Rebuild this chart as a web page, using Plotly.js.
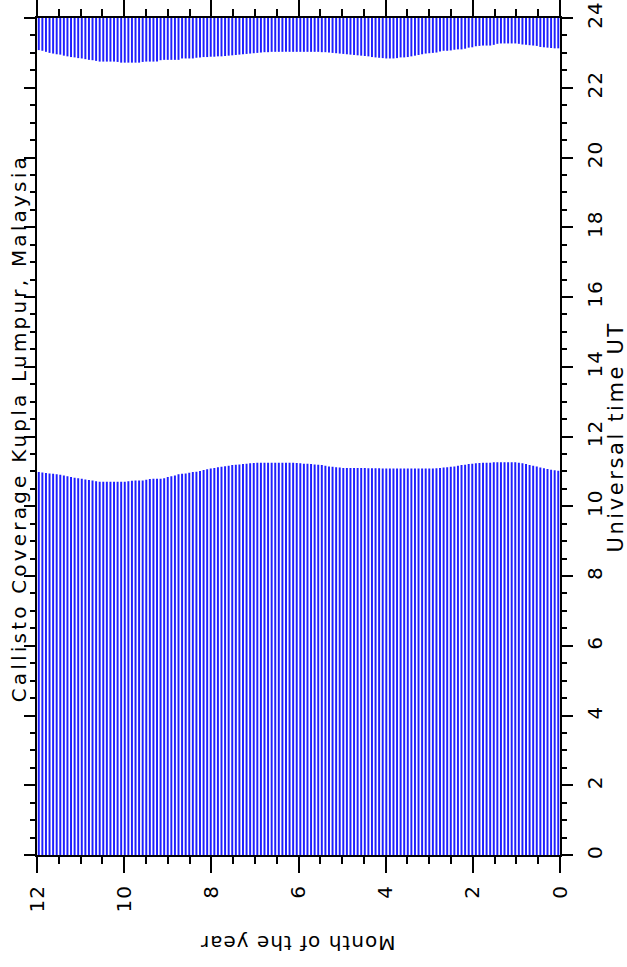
<!DOCTYPE html>
<html>
<head>
<meta charset="utf-8">
<script src="https://cdn.plot.ly/plotly-3.0.1.min.js"></script>
<style>
html,body{margin:0;padding:0;background:#fff;}
#chart{width:627px;height:967px;}
#chart g.annotation[data-index="0"] text{letter-spacing:3.2px;}
#chart g.annotation[data-index="1"] text{letter-spacing:1px;}
#chart g.annotation[data-index="2"] text{letter-spacing:2.6px;}
#chart .xtick text, #chart .ytick text{letter-spacing:1px;}
</style>
</head>
<body>
<div id="chart"></div>
<script>
// Month of the year: first sample and spacing (146 samples over the year)
const monthStart = 0.04;
const monthStep = 0.0822;

// End of the early coverage window (UT hours), month 0 -> 12
const earlyEnd = [
11.02,11.03,11.05,11.07,11.09,11.11,11.14,11.16,11.18,11.21,
11.23,11.25,11.26,11.26,11.26,11.26,11.26,11.26,11.26,11.25,
11.25,11.25,11.24,11.23,11.22,11.21,11.19,11.18,11.16,11.14,
11.13,11.12,11.11,11.10,11.09,11.08,11.08,11.08,11.08,11.08,
11.08,11.08,11.08,11.08,11.08,11.08,11.08,11.08,11.08,11.08,
11.09,11.09,11.09,11.09,11.10,11.10,11.10,11.10,11.10,11.10,
11.10,11.11,11.12,11.13,11.14,11.16,11.18,11.19,11.20,11.21,
11.22,11.22,11.23,11.24,11.25,11.25,11.25,11.25,11.25,11.25,
11.25,11.25,11.25,11.25,11.25,11.24,11.23,11.22,11.21,11.20,
11.19,11.18,11.16,11.15,11.13,11.12,11.10,11.08,11.06,11.04,
11.01,10.99,10.98,10.96,10.94,10.93,10.92,10.88,10.86,10.84,
10.80,10.79,10.79,10.79,10.78,10.76,10.74,10.74,10.74,10.73,
10.72,10.70,10.70,10.70,10.70,10.70,10.70,10.70,10.70,10.72,
10.74,10.75,10.77,10.79,10.80,10.82,10.84,10.86,10.88,10.90,
10.92,10.93,10.94,10.95,10.97,10.98
];

// Start of the late coverage window (UT hours), month 0 -> 12
const lateStart = [
23.13,23.13,23.14,23.15,23.16,23.17,23.20,23.21,23.22,23.23,
23.24,23.26,23.27,23.27,23.27,23.27,23.27,23.26,23.23,23.21,
23.21,23.21,23.20,23.19,23.16,23.15,23.12,23.10,23.10,23.09,
23.07,23.06,23.06,23.04,23.01,23.00,22.99,22.98,22.96,22.94,
22.92,22.90,22.88,22.87,22.87,22.85,22.84,22.84,22.84,22.85,
22.86,22.87,22.88,22.90,22.91,22.92,22.93,22.94,22.95,22.96,
22.97,22.98,22.99,23.00,23.01,23.02,23.02,23.03,23.03,23.03,
23.03,23.03,23.03,23.03,23.03,23.03,23.03,23.03,23.03,23.03,
23.03,23.02,23.02,23.01,23.00,22.99,22.98,22.97,22.96,22.95,
22.94,22.93,22.92,22.91,22.90,22.90,22.89,22.89,22.88,22.88,
22.87,22.86,22.84,22.84,22.84,22.84,22.80,22.80,22.80,22.80,
22.80,22.79,22.75,22.75,22.75,22.75,22.74,22.72,22.72,22.72,
22.72,22.72,22.72,22.74,22.75,22.75,22.75,22.75,22.75,22.77,
22.79,22.80,22.82,22.84,22.85,22.87,22.88,22.90,22.92,22.95,
22.96,22.98,23.00,23.03,23.06,23.08
];

const dayEnd = 24;
const monthTicks = [0, 2, 4, 6, 8, 10, 12];
const hourTicks = [0, 2, 4, 6, 8, 10, 12, 14, 16, 18, 20, 22, 24];

const titleText = 'Callisto Coverage Kupla Lumpur, Malaysia';
const xTitleText = 'Month of the year';
const yTitleText = 'Universal time UT';

const barColor = '#1f1fff';
const barWidth = monthStep * 0.55;

const traces = [
  {
    type: 'bar', x0: monthStart, dx: monthStep,
    y: earlyEnd, base: 0,
    width: barWidth,
    marker: {color: barColor, line: {width: 0}},
    hoverinfo: 'skip'
  },
  {
    type: 'bar', x0: monthStart, dx: monthStep,
    y: lateStart.map(s => dayEnd - s), base: lateStart,
    width: barWidth,
    marker: {color: barColor, line: {width: 0}},
    hoverinfo: 'skip'
  }
];

const axisFont = {family: 'DejaVu Sans', size: 20, color: '#000'};

const layout = {
  width: 627, height: 967,
  margin: {l: 37, r: 67, t: 18, b: 112, pad: 0},
  paper_bgcolor: '#fff', plot_bgcolor: '#fff',
  showlegend: false,
  barmode: 'overlay',
  xaxis: {
    range: [12, 0], tickvals: monthTicks, tickangle: -90,
    ticks: 'outside', ticklen: 16, tickwidth: 2, tickcolor: '#000',
    minor: {dtick: 0.5, ticks: 'outside', ticklen: 7, tickwidth: 2, tickcolor: '#000'},
    showline: true, linewidth: 2, linecolor: '#000', mirror: 'ticks',
    showgrid: false, zeroline: false, tickfont: axisFont, ticklabelstandoff: 4
  },
  yaxis: {
    range: [0, 24], tickvals: hourTicks, side: 'right', tickangle: -90,
    ticks: 'outside', ticklen: 11, tickwidth: 2, tickcolor: '#000',
    minor: {dtick: 0.5, ticks: 'outside', ticklen: 5, tickwidth: 2, tickcolor: '#000'},
    showline: true, linewidth: 2, linecolor: '#000', mirror: 'ticks',
    showgrid: false, zeroline: false, tickfont: axisFont, ticklabelstandoff: 5
  },
  annotations: [
    {text: titleText, xref: 'paper', yref: 'paper', x: -0.034, y: 0.51,
     textangle: -90, showarrow: false, xanchor: 'center', yanchor: 'middle',
     font: {family: 'DejaVu Sans', size: 20, color: '#000'}},
    {text: xTitleText, xref: 'paper', yref: 'paper', x: 0.498, y: -0.105,
     textangle: 180, showarrow: false, xanchor: 'center', yanchor: 'middle',
     font: {family: 'DejaVu Sans', size: 20, color: '#000'}},
    {text: yTitleText, xref: 'paper', yref: 'paper', x: 1.107, y: 0.5,
     textangle: -90, showarrow: false, xanchor: 'center', yanchor: 'middle',
     font: {family: 'DejaVu Sans', size: 21, color: '#000'}}
  ]
};

Plotly.newPlot('chart', traces, layout, {staticPlot: true, displayModeBar: false});
</script>
</body>
</html>
